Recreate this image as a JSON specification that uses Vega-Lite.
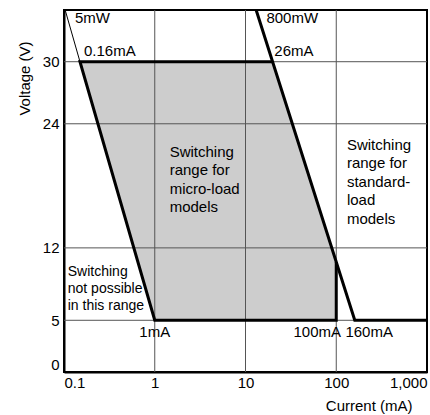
{
  "$schema": "https://vega.github.io/schema/vega-lite/v6.json",
  "width": 363,
  "height": 362,
  "autosize": {"type": "none"},
  "padding": {"left": 64, "top": 10, "right": 3, "bottom": 43},
  "config": {
    "view": {"stroke": "#000", "strokeWidth": 2},
    "font": "Liberation Sans",
    "text": {"font": "Liberation Sans", "lineBreak": "\n", "color": "#000"}
  },
  "datasets": {
    "region": [
      {"x": 0.15, "y": 30, "y2": 30},
      {"x": 1, "y": 5, "y2": 30},
      {"x": 19.9, "y": 5, "y2": 30},
      {"x": 100, "y": 5, "y2": 10.63}
    ],
    "gridx": [{"x": 1}, {"x": 10}, {"x": 100}],
    "gridy": [{"y": 5}, {"y": 12}, {"y": 24}, {"y": 30}],
    "bounds": [
      {"i": 1, "x": 19.9, "y": 30},
      {"i": 2, "x": 0.15, "y": 30},
      {"i": 3, "x": 1, "y": 5},
      {"i": 4, "x": 100, "y": 5},
      {"i": 5, "x": 100, "y": 10.63}
    ],
    "power": [
      {"i": 1, "x": 13.1, "y": 35},
      {"i": 2, "x": 160, "y": 5},
      {"i": 3, "x": 1000, "y": 5}
    ],
    "fivemw": [
      {"i": 1, "x": 0.103, "y": 35},
      {"i": 2, "x": 0.15, "y": 30}
    ],
    "leftlabels": [
      {"x": 0.132, "y": 34.2, "t": "5mW"},
      {"x": 0.166, "y": 31, "t": "0.16mA"},
      {"x": 17, "y": 34.2, "t": "800mW"},
      {"x": 20.8, "y": 31, "t": "26mA"}
    ],
    "centerlabels": [
      {"x": 1, "y": 3.87, "t": "1mA"},
      {"x": 61.8, "y": 3.87, "t": "100mA"},
      {"x": 230.6, "y": 3.87, "t": "160mA"}
    ],
    "blocks": [
      {"x": 1.46, "y": 21.28, "t": "Switching\nrange for\nmicro-load\nmodels"},
      {"x": 131.1, "y": 21.95, "t": "Switching\nrange for\nstandard-\nload\nmodels"}
    ],
    "smallblock": [
      {"x": 0.11, "y": 9.7, "t": "Switching\nnot possible\nin this range"}
    ]
  },
  "layer": [
    {
      "data": {"name": "region"},
      "mark": {"type": "area", "fill": "#cdcdcd", "stroke": null},
      "encoding": {
        "x": {
          "field": "x", "type": "quantitative",
          "scale": {"type": "log", "domain": [0.1, 1000]},
          "axis": {
            "title": "Current (mA)",
            "values": [0.1, 1, 10, 100, 1000],
            "format": ",",
            "grid": false, "ticks": false,
            "domainColor": "#000", "domainWidth": 2,
            "labelFont": "Liberation Sans", "labelFontSize": 15, "labelColor": "#000",
            "labelPadding": 3, "labelFlush": true,
            "titleFont": "Liberation Sans", "titleFontSize": 15, "titleFontWeight": "normal", "titleColor": "#000",
            "titleX": 348, "titleY": 33, "titleAlign": "right", "titleBaseline": "middle"
          }
        },
        "y": {
          "field": "y", "type": "quantitative",
          "scale": {"domain": [0, 35], "nice": false, "zero": false},
          "axis": {
            "title": "Voltage (V)",
            "values": [0, 5, 12, 24, 30],
            "grid": false, "ticks": false,
            "domainColor": "#000", "domainWidth": 2,
            "labelFont": "Liberation Sans", "labelFontSize": 15, "labelColor": "#000",
            "labelPadding": 5,
            "labelBaseline": {"condition": {"test": "datum.value === 0", "value": "bottom"}, "value": "middle"},
            "titleFont": "Liberation Sans", "titleFontSize": 15, "titleFontWeight": "normal", "titleColor": "#000",
            "titleX": -40, "titleY": 68, "titleAlign": "center", "titleBaseline": "middle", "titleAngle": -90
          }
        },
        "y2": {"field": "y2"}
      }
    },
    {
      "data": {"name": "gridx"},
      "mark": {"type": "rule", "stroke": "#555", "strokeWidth": 1},
      "encoding": {"x": {"field": "x", "type": "quantitative"}}
    },
    {
      "data": {"name": "gridy"},
      "mark": {"type": "rule", "stroke": "#555", "strokeWidth": 1},
      "encoding": {"y": {"field": "y", "type": "quantitative"}}
    },
    {
      "data": {"name": "fivemw"},
      "mark": {"type": "line", "stroke": "#000", "strokeWidth": 1},
      "encoding": {
        "x": {"field": "x", "type": "quantitative"},
        "y": {"field": "y", "type": "quantitative"},
        "order": {"field": "i"}
      }
    },
    {
      "data": {"name": "bounds"},
      "mark": {"type": "line", "stroke": "#000", "strokeWidth": 3, "strokeJoin": "miter"},
      "encoding": {
        "x": {"field": "x", "type": "quantitative"},
        "y": {"field": "y", "type": "quantitative"},
        "order": {"field": "i"}
      }
    },
    {
      "data": {"name": "power"},
      "mark": {"type": "line", "stroke": "#000", "strokeWidth": 3, "strokeJoin": "miter"},
      "encoding": {
        "x": {"field": "x", "type": "quantitative"},
        "y": {"field": "y", "type": "quantitative"},
        "order": {"field": "i"}
      }
    },
    {
      "data": {"name": "leftlabels"},
      "mark": {"type": "text", "align": "left", "baseline": "middle", "fontSize": 15},
      "encoding": {
        "x": {"field": "x", "type": "quantitative"},
        "y": {"field": "y", "type": "quantitative"},
        "text": {"field": "t"}
      }
    },
    {
      "data": {"name": "centerlabels"},
      "mark": {"type": "text", "align": "center", "baseline": "middle", "fontSize": 15},
      "encoding": {
        "x": {"field": "x", "type": "quantitative"},
        "y": {"field": "y", "type": "quantitative"},
        "text": {"field": "t"}
      }
    },
    {
      "data": {"name": "blocks"},
      "mark": {"type": "text", "align": "left", "baseline": "middle", "fontSize": 15, "lineHeight": 18.5},
      "encoding": {
        "x": {"field": "x", "type": "quantitative"},
        "y": {"field": "y", "type": "quantitative"},
        "text": {"field": "t"}
      }
    },
    {
      "data": {"name": "smallblock"},
      "mark": {"type": "text", "align": "left", "baseline": "middle", "fontSize": 14, "lineHeight": 17.2},
      "encoding": {
        "x": {"field": "x", "type": "quantitative"},
        "y": {"field": "y", "type": "quantitative"},
        "text": {"field": "t"}
      }
    }
  ]
}
